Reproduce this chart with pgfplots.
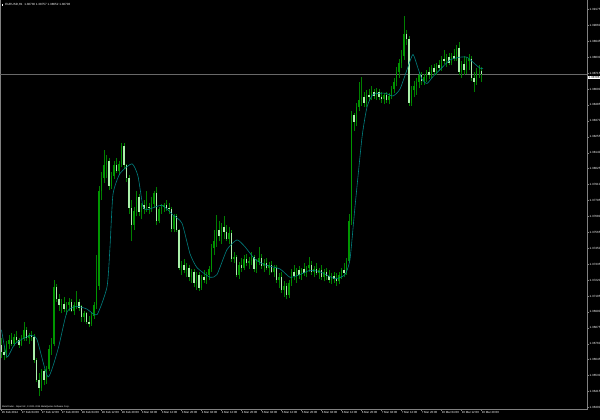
\documentclass[border=0pt]{standalone}
\usepackage{pgfplots}
\usepackage{pgfplotstable}
\pgfplotsset{compat=1.18}
\usepackage{fontspec}
\setmainfont{Liberation Sans}
\definecolor{wickc}{RGB}{0,128,0}
\definecolor{bullc}{RGB}{0,150,0}
\definecolor{bearc}{RGB}{170,240,170}
\definecolor{mac}{RGB}{0,128,128}
\definecolor{axc}{RGB}{128,128,128}
\definecolor{pricec}{RGB}{105,105,105}

\pgfplotstableread{
i o h l c
0 1.3675 1.3680 1.3666 1.3670
1 1.3670 1.3674 1.3664 1.3668
2 1.3668 1.3678 1.3666 1.3676
3 1.3676 1.3682 1.3672 1.3679
4 1.3679 1.3684 1.3674 1.3676
5 1.3676 1.3683 1.3674 1.3681
6 1.3681 1.3685 1.3677 1.3679
7 1.3679 1.3680 1.3673 1.3675
8 1.3675 1.3682 1.3674 1.3680
9 1.3680 1.3692 1.3678 1.3686
10 1.3686 1.3688 1.3678 1.3680
11 1.3680 1.3684 1.3676 1.3682
12 1.3682 1.3685 1.3678 1.3681
13 1.3681 1.3683 1.3662 1.3664
14 1.3664 1.3666 1.3648 1.3650
15 1.3650 1.3655 1.3638 1.3644
16 1.3644 1.3658 1.3642 1.3656
17 1.3656 1.3658 1.3646 1.3650
18 1.3650 1.3660 1.3647 1.3658
19 1.3658 1.3675 1.3656 1.3672
20 1.3672 1.3680 1.3668 1.3676
21 1.3676 1.3722 1.3674 1.3717
22 1.3717 1.3719 1.3706 1.3708
23 1.3708 1.3712 1.3700 1.3704
24 1.3704 1.3708 1.3698 1.3705
25 1.3705 1.3710 1.3699 1.3701
26 1.3701 1.3706 1.3697 1.3704
27 1.3704 1.3709 1.3700 1.3706
28 1.3706 1.3708 1.3699 1.3700
29 1.3700 1.3706 1.3697 1.3704
30 1.3704 1.3714 1.3701 1.3706
31 1.3706 1.3708 1.3700 1.3702
32 1.3703 1.3704 1.3692 1.3695
33 1.3695 1.3700 1.3692 1.3698
34 1.3698 1.3699 1.3690 1.3692
35 1.3692 1.3696 1.3688 1.3690
36 1.3690 1.3698 1.3689 1.3696
37 1.3696 1.3706 1.3694 1.3704
38 1.3704 1.3740 1.3701 1.3718
39 1.3718 1.3790 1.3715 1.3786
40 1.3786 1.3800 1.3780 1.3796
41 1.3796 1.3816 1.3792 1.3805
42 1.3805 1.3812 1.3796 1.3808
43 1.3808 1.3810 1.3787 1.3790
44 1.3790 1.3800 1.3788 1.3797
45 1.3797 1.3808 1.3795 1.3805
46 1.3805 1.3810 1.3799 1.3801
47 1.3801 1.3808 1.3798 1.3806
48 1.3806 1.3821 1.3804 1.3819
49 1.3819 1.3821 1.3802 1.3805
50 1.3805 1.3806 1.3793 1.3796
51 1.3796 1.3798 1.3770 1.3774
52 1.3774 1.3780 1.3750 1.3762
53 1.3762 1.3775 1.3758 1.3772
54 1.3772 1.3786 1.3768 1.3782
55 1.3782 1.3784 1.3768 1.3771
56 1.3771 1.3778 1.3766 1.3776
57 1.3776 1.3780 1.3770 1.3773
58 1.3773 1.3786 1.3771 1.3775
59 1.3775 1.3778 1.3770 1.3774
60 1.3774 1.3782 1.3771 1.3777
61 1.3777 1.3786 1.3774 1.3785
62 1.3785 1.3789 1.3762 1.3765
63 1.3765 1.3775 1.3763 1.3773
64 1.3773 1.3777 1.3770 1.3775
65 1.3775 1.3778 1.3771 1.3776
66 1.3776 1.3780 1.3772 1.3774
67 1.3774 1.3778 1.3770 1.3773
68 1.3773 1.3775 1.3757 1.3759
69 1.3759 1.3770 1.3757 1.3768
70 1.3768 1.3770 1.3757 1.3758
71 1.3758 1.3759 1.3729 1.3731
72 1.3731 1.3736 1.3726 1.3733
73 1.3733 1.3737 1.3727 1.3729
74 1.3729 1.3734 1.3724 1.3731
75 1.3731 1.3733 1.3721 1.3724
76 1.3724 1.3730 1.3720 1.3728
77 1.3728 1.3730 1.3717 1.3720
78 1.3720 1.3728 1.3715 1.3726
79 1.3726 1.3728 1.3714 1.3716
80 1.3716 1.3726 1.3715 1.3724
81 1.3724 1.3729 1.3720 1.3722
82 1.3722 1.3728 1.3719 1.3726
83 1.3726 1.3732 1.3722 1.3730
84 1.3730 1.3748 1.3728 1.3745
85 1.3745 1.3758 1.3740 1.3750
86 1.3750 1.3769 1.3746 1.3758
87 1.3758 1.3765 1.3750 1.3754
88 1.3754 1.3763 1.3748 1.3760
89 1.3760 1.3768 1.3752 1.3757
90 1.3757 1.3762 1.3750 1.3752
91 1.3752 1.3760 1.3748 1.3756
92 1.3756 1.3758 1.3735 1.3737
93 1.3737 1.3742 1.3734 1.3739
94 1.3739 1.3740 1.3724 1.3726
95 1.3726 1.3735 1.3723 1.3733
96 1.3733 1.3738 1.3728 1.3731
97 1.3731 1.3740 1.3729 1.3737
98 1.3737 1.3741 1.3732 1.3734
99 1.3734 1.3739 1.3730 1.3736
100 1.3736 1.3742 1.3733 1.3739
101 1.3739 1.3740 1.3728 1.3730
102 1.3730 1.3737 1.3727 1.3735
103 1.3735 1.3746 1.3733 1.3738
104 1.3738 1.3741 1.3730 1.3732
105 1.3732 1.3737 1.3728 1.3734
106 1.3734 1.3738 1.3729 1.3731
107 1.3731 1.3735 1.3726 1.3733
108 1.3733 1.3736 1.3727 1.3728
109 1.3728 1.3733 1.3724 1.3731
110 1.3731 1.3733 1.3720 1.3722
111 1.3722 1.3727 1.3716 1.3724
112 1.3724 1.3728 1.3713 1.3715
113 1.3715 1.3721 1.3710 1.3718
114 1.3718 1.3720 1.3708 1.3711
115 1.3711 1.3722 1.3709 1.3720
116 1.3720 1.3730 1.3718 1.3728
117 1.3728 1.3733 1.3722 1.3725
118 1.3725 1.3731 1.3720 1.3729
119 1.3729 1.3732 1.3723 1.3726
120 1.3726 1.3731 1.3722 1.3730
121 1.3730 1.3734 1.3725 1.3727
122 1.3727 1.3732 1.3724 1.3731
123 1.3731 1.3739 1.3728 1.3733
124 1.3733 1.3736 1.3726 1.3728
125 1.3728 1.3732 1.3724 1.3730
126 1.3730 1.3734 1.3726 1.3727
127 1.3727 1.3731 1.3723 1.3729
128 1.3729 1.3733 1.3722 1.3724
129 1.3724 1.3730 1.3721 1.3728
130 1.3728 1.3731 1.3722 1.3725
131 1.3725 1.3729 1.3720 1.3722
132 1.3722 1.3727 1.3719 1.3725
133 1.3725 1.3728 1.3720 1.3723
134 1.3723 1.3727 1.3718 1.3721
135 1.3721 1.3728 1.3719 1.3726
136 1.3726 1.3731 1.3723 1.3729
137 1.3729 1.3734 1.3724 1.3727
138 1.3727 1.3738 1.3726 1.3736
139 1.3736 1.3770 1.3734 1.3765
140 1.3765 1.3844 1.3762 1.3841
141 1.3841 1.3843 1.3830 1.3836
142 1.3836 1.3850 1.3833 1.3847
143 1.3847 1.3865 1.3844 1.3852
144 1.3852 1.3869 1.3848 1.3854
145 1.3854 1.3858 1.3847 1.3850
146 1.3850 1.3859 1.3847 1.3856
147 1.3856 1.3860 1.3851 1.3854
148 1.3854 1.3862 1.3852 1.3858
149 1.3858 1.3860 1.3853 1.3855
150 1.3855 1.3861 1.3852 1.3858
151 1.3858 1.3860 1.3852 1.3854
152 1.3854 1.3858 1.3850 1.3853
153 1.3853 1.3857 1.3849 1.3856
154 1.3856 1.3858 1.3850 1.3852
155 1.3852 1.3857 1.3849 1.3855
156 1.3855 1.3862 1.3853 1.3860
157 1.3860 1.3868 1.3857 1.3865
158 1.3865 1.3876 1.3862 1.3872
159 1.3872 1.3882 1.3868 1.3879
160 1.3879 1.3888 1.3875 1.3884
161 1.3884 1.3913 1.3881 1.3900
162 1.3900 1.3903 1.3892 1.3896
163 1.3896 1.3898 1.3848 1.3850
164 1.3850 1.3862 1.3848 1.3859
165 1.3859 1.3866 1.3854 1.3862
166 1.3862 1.3868 1.3856 1.3865
167 1.3865 1.3872 1.3861 1.3870
168 1.3870 1.3872 1.3863 1.3866
169 1.3866 1.3871 1.3863 1.3869
170 1.3869 1.3874 1.3865 1.3872
171 1.3872 1.3876 1.3867 1.3870
172 1.3870 1.3877 1.3868 1.3875
173 1.3875 1.3878 1.3870 1.3872
174 1.3872 1.3879 1.3870 1.3877
175 1.3877 1.3881 1.3873 1.3875
176 1.3875 1.3884 1.3873 1.3882
177 1.3882 1.3888 1.3878 1.3880
178 1.3880 1.3885 1.3876 1.3883
179 1.3883 1.3886 1.3877 1.3879
180 1.3879 1.3886 1.3877 1.3884
181 1.3884 1.3889 1.3880 1.3882
182 1.3882 1.3892 1.3880 1.3890
183 1.3890 1.3894 1.3870 1.3872
184 1.3872 1.3880 1.3868 1.3878
185 1.3878 1.3884 1.3870 1.3874
186 1.3874 1.3883 1.3871 1.3880
187 1.3880 1.3885 1.3874 1.3882
188 1.3882 1.3884 1.3866 1.3868
189 1.3868 1.3872 1.3858 1.3865
190 1.3865 1.3875 1.3863 1.3873
191 1.3873 1.3877 1.3868 1.3873
192 1.38730 1.38757 1.38652 1.38706
}\bars

\pgfplotstableread{
i m
0 1.3686
2.2 1.36665
5.4 1.3676
11.4 1.3682
14.2 1.3679
18.6 1.3652
22.6 1.3672
26.2 1.3699
30.2 1.3703
34.2 1.3701
38.2 1.3697
42.2 1.3717
43.4 1.3746
44.6 1.3784
47.4 1.3799
52.2 1.3806
54.6 1.3797
56.6 1.3775
58.6 1.3773
64.2 1.3776
68.6 1.3769
72.2 1.3763
75.4 1.3741
78.2 1.3731
83.4 1.3724
86.2 1.3726
90.2 1.3744
94.2 1.3751
97.4 1.3746
101.4 1.3737
105.4 1.3733
111.4 1.3730
115.4 1.3724
119.4 1.3726
123.4 1.3729
127.4 1.3728
133.4 1.3723
137.4 1.3726
139.4 1.3737
141.4 1.3775
144.2 1.3825
146.2 1.3847
148.6 1.3856
153.4 1.3857
156.6 1.3855
159.4 1.3860
162.6 1.3876
164.6 1.3885
166.6 1.3875
168.2 1.3867
170.2 1.3864
172.6 1.3869
175.4 1.3874
179.4 1.3881
183.4 1.3883
186.2 1.3883
188.2 1.3880
191.4 1.3875
192.6 1.3875
}\mavg

\begin{document}
\begin{tikzpicture}[x=1pt,y=1pt]
\useasboundingbox (0,0) rectangle (600,420);
\fill[black] (0,0) rectangle (600,420);
\begin{axis}[
  at={(0,8)}, anchor=south west,
  scale only axis, width=587pt, height=410pt,
  xmin=-0.6, xmax=234.2,
  ymin=1.36289, ymax=1.39251,
  axis line style={axc, line width=0.5pt},
  tick style={axc, line width=0.4pt},
  tick align=outside, major tick length=2pt,
  xtick pos=bottom, ytick pos=right, yticklabel pos=right,
  xtick={0,8,...,192},
  xticklabels={26 Feb 2014,27 Feb 04:00,27 Feb 12:00,27 Feb 20:00,28 Feb 04:00,28 Feb 12:00,28 Feb 20:00,3 Mar 04:00,3 Mar 12:00,3 Mar 20:00,4 Mar 04:00,4 Mar 12:00,4 Mar 20:00,5 Mar 04:00,5 Mar 12:00,5 Mar 20:00,6 Mar 04:00,6 Mar 12:00,6 Mar 20:00,7 Mar 04:00,7 Mar 12:00,7 Mar 20:00,10 Mar 04:00,10 Mar 12:00,10 Mar 20:00},
  xticklabel style={font=\fontsize{2.9}{3.4}\selectfont, text=white, anchor=north west, inner sep=0.4pt, xshift=-0.3pt},
  ytick={1.36300,1.36415,1.36530,1.36645,1.36760,1.36875,1.36990,1.37105,1.37220,1.37335,1.37450,1.37565,1.37680,1.37795,1.37910,1.38025,1.38140,1.38255,1.38370,1.38485,1.38600,1.38715,1.38830,1.38945,1.39060,1.39175},
  yticklabels={1.36300,1.36415,1.36530,1.36645,1.36760,1.36875,1.36990,1.37105,1.37220,1.37335,1.37450,1.37565,1.37680,1.37795,1.37910,1.38025,1.38140,1.38255,1.38370,1.38485,1.38600,1.38715,1.38830,1.38945,1.39060,1.39175},
  yticklabel style={font=\fontsize{3}{3.5}\selectfont, text=white, anchor=west, inner sep=0.4pt},
  clip=true,
]
% current price line
\addplot[pricec, line width=0.35pt] coordinates {(-0.6,1.38706) (234.2,1.38706)};
% wicks
\addplot[draw=wickc, line width=0.6pt, quiver={u=0, v=\thisrow{h}-\thisrow{l}}] table[x=i, y=l] {\bars};
% bull bodies
\addplot[draw=bullc, line width=1.3pt, quiver={u=0, v=\thisrow{c}-\thisrow{o}},
  x filter/.expression={\thisrow{c}>=\thisrow{o} ? x : nan}] table[x=i, y=o] {\bars};
% bear bodies
\addplot[draw=bearc, line width=1.3pt, quiver={u=0, v=\thisrow{c}-\thisrow{o}},
  x filter/.expression={\thisrow{c}<\thisrow{o} ? x : nan}] table[x=i, y=o] {\bars};
% moving average
\addplot[mac, line width=0.6pt, smooth, tension=0.35] table[x=i, y=m] {\mavg};
\end{axis}
% price box
\node[fill=white, text=black, anchor=west, inner sep=0.5pt, font=\fontsize{3}{3.5}\selectfont] at (588,420-77.6) {1.38706};
% title
\node[anchor=west, text=white, inner sep=0pt, font=\fontsize{3}{3.5}\selectfont] at (1.5,415) {\rule{1.6pt}{1.6pt}\hspace{2pt}EURUSD,H1\ \ 1.38730 1.38757 1.38652 1.38706};
% copyright
\node[anchor=west, text=white, inner sep=0pt, font=\fontsize{2.3}{2.8}\selectfont] at (2,12.7) {MetaTrader - Alpari UK, © 2001-2014 MetaQuotes Software Corp.};
\end{tikzpicture}
\end{document}
